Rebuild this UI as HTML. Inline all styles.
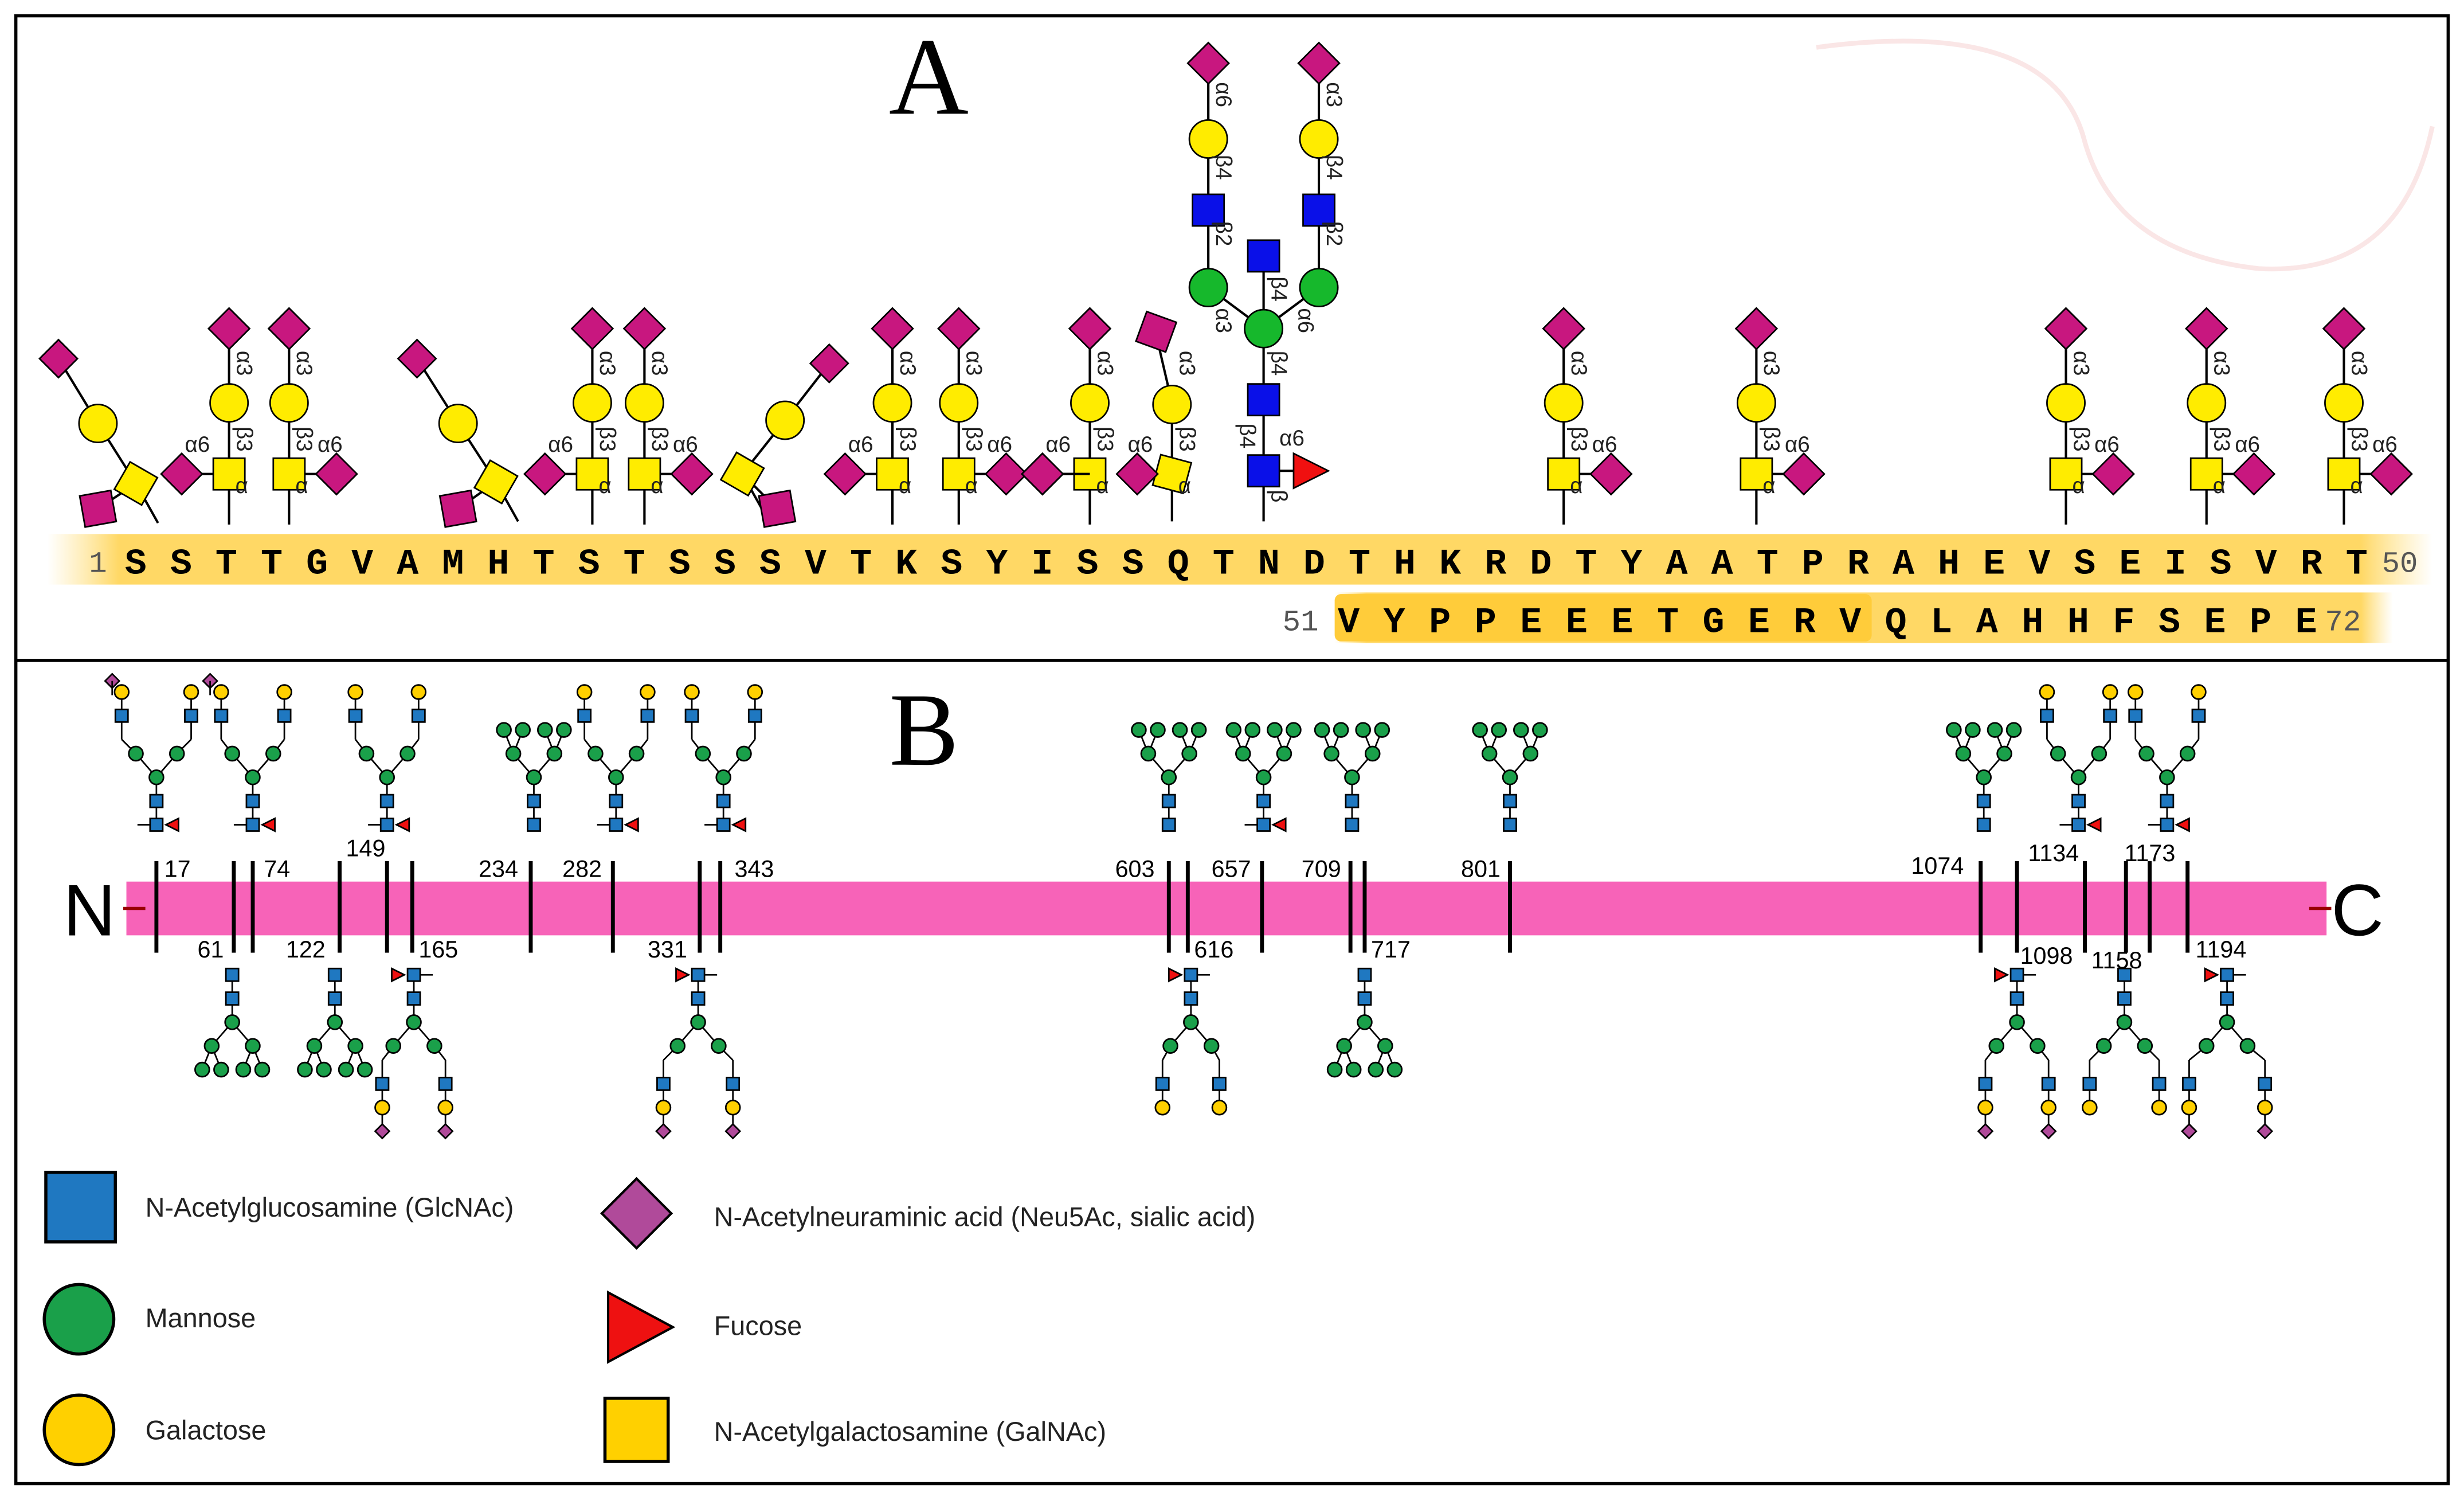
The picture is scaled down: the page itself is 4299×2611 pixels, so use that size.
<!DOCTYPE html>
<html><head><meta charset="utf-8">
<style>
html,body{margin:0;padding:0;background:#fff;}
svg{display:block;}
</style></head>
<body>
<svg id="s" width="4299" height="2611" viewBox="0 0 1560 947.5" xmlns="http://www.w3.org/2000/svg">
<defs>
<linearGradient id="yb" x1="0" x2="1" y1="0" y2="0">
<stop offset="0" stop-color="#ffe080" stop-opacity="0"/>
<stop offset="0.03" stop-color="#ffd865"/>
<stop offset="0.97" stop-color="#ffd865"/>
<stop offset="1" stop-color="#ffe080" stop-opacity="0"/>
</linearGradient>
</defs>
<rect x="0" y="0" width="1560" height="947.5" fill="#fff"/>
<rect x="10" y="10" width="1540" height="929" fill="none" stroke="#000" stroke-width="2"/>
<line x1="10" y1="418" x2="1550" y2="418" stroke="#000" stroke-width="2"/>
<path d="M1150 30 Q1300 10 1320 90 Q1340 160 1430 170 Q1520 175 1540 80" fill="none" stroke="#fae6e6" stroke-width="3"/>
<text x="588" y="72" font-family="Liberation Serif, serif" font-size="70" text-anchor="middle">A</text>
<text x="585" y="484" font-family="Liberation Serif, serif" font-size="66" text-anchor="middle">B</text>

<rect x="30" y="338" width="1510" height="32" fill="url(#yb)"/>
<rect x="845" y="375" width="670" height="32" fill="url(#yb)"/>
<rect x="845" y="376" width="340" height="30" fill="#ffcc3a" rx="4"/>
<g id="glyA"></g>
<text x="62" y="362" font-family="Liberation Mono, monospace" font-size="19" fill="#555" text-anchor="middle">1</text>
<text x="79" y="363" font-family="Liberation Mono, monospace" font-size="23" font-weight="bold" textLength="1420" lengthAdjust="spacing">SSTTGVAMHTSTSSSVTKSYISSQTNDTHKRDTYAATPRAHEVSEISVRT</text>
<text x="1508" y="362" font-family="Liberation Mono, monospace" font-size="19" fill="#555">50</text>
<text x="812" y="399" font-family="Liberation Mono, monospace" font-size="19" fill="#555">51</text>
<text x="847" y="400" font-family="Liberation Mono, monospace" font-size="23" font-weight="bold" textLength="620" lengthAdjust="spacing">VYPPEEETGERVQLAHHFSEPE</text>
<text x="1472" y="399" font-family="Liberation Mono, monospace" font-size="19" fill="#555">72</text>

<rect x="80" y="558" width="1393" height="34" fill="#f763b8"/>
<line x1="78" y1="575" x2="92" y2="575" stroke="#900" stroke-width="2"/>
<line x1="1462" y1="575" x2="1476" y2="575" stroke="#900" stroke-width="2"/>
<text x="40" y="592" font-family="Liberation Sans, sans-serif" font-size="46">N</text>
<text x="1476" y="592" font-family="Liberation Sans, sans-serif" font-size="46">C</text>
<g id="ticks" stroke="#000" stroke-width="2.5"></g>
<g font-family="Liberation Sans, sans-serif" font-size="15">
<text x="104" y="555">17</text><text x="167" y="555">74</text><text x="219" y="542">149</text>
<text x="303" y="555">234</text><text x="356" y="555">282</text><text x="465" y="555">343</text>
<text x="706" y="555">603</text><text x="767" y="555">657</text><text x="824" y="555">709</text>
<text x="925" y="555">801</text><text x="1210" y="553">1074</text><text x="1284" y="545">1134</text>
<text x="1345" y="545">1173</text>
<text x="125" y="606">61</text><text x="181" y="606">122</text><text x="265" y="606">165</text>
<text x="410" y="606">331</text><text x="756" y="606">616</text><text x="868" y="606">717</text>
<text x="1279" y="610">1098</text><text x="1324" y="613">1158</text><text x="1390" y="606">1194</text>
</g>
<g id="glyB"></g>

<rect x="29" y="742" width="44" height="44" fill="#1f78c1" stroke="#000" stroke-width="2"/>
<circle cx="50" cy="835" r="22" fill="#1aa04a" stroke="#000" stroke-width="2"/>
<circle cx="50" cy="905" r="22" fill="#ffd000" stroke="#000" stroke-width="2"/>
<polygon points="403,746 425,768 403,790 381,768" fill="#b04a9a" stroke="#000" stroke-width="1.5"/>
<polygon points="385,818 426,840 385,862" fill="#ee1111" stroke="#000" stroke-width="1.5"/>
<rect x="383" y="885" width="40" height="40" fill="#ffd000" stroke="#000" stroke-width="2"/>
<g font-family="Liberation Sans, sans-serif" font-size="17" fill="#222">
<text x="92" y="770">N-Acetylglucosamine (GlcNAc)</text>
<text x="92" y="840">Mannose</text>
<text x="92" y="911">Galactose</text>
<text x="452" y="776">N-Acetylneuraminic acid (Neu5Ac, sialic acid)</text>
<text x="452" y="845">Fucose</text>
<text x="452" y="912">N-Acetylgalactosamine (GalNAc)</text>
</g>
</svg>
<script>
var NS="http://www.w3.org/2000/svg";
function el(p,t,a){var e=document.createElementNS(NS,t);for(var k in a)e.setAttribute(k,a[k]);p.appendChild(e);return e;}
var A=document.getElementById('glyA'),B=document.getElementById('glyB'),T=document.getElementById('ticks');
var MAG="#c8177f",YEL="#ffec00",BLU="#0a10e8",GRN="#16b82c",RED="#f01010";
function ln(p,x1,y1,x2,y2,w){el(p,'line',{x1:x1,y1:y1,x2:x2,y2:y2,stroke:'#000','stroke-width':w||1.5});}
function sq(p,x,y,s,c){el(p,'rect',{x:x-s/2,y:y-s/2,width:s,height:s,fill:c,stroke:'#000','stroke-width':1});}
function ci(p,x,y,r,c){el(p,'circle',{cx:x,cy:y,r:r,fill:c,stroke:'#000','stroke-width':1});}
function di(p,x,y,r,c){el(p,'polygon',{points:(x)+','+(y-r)+' '+(x+r)+','+y+' '+x+','+(y+r)+' '+(x-r)+','+y,fill:c,stroke:'#000','stroke-width':1});}
function tri(p,x,y,s,dir){var d=dir||1;el(p,'polygon',{points:(x-d*s/2)+','+(y-s/2)+' '+(x+d*s/2)+','+y+' '+(x-d*s/2)+','+(y+s/2),fill:RED,stroke:'#000','stroke-width':1});}
function og(x,side){
  ln(A,x,300,x,332);ln(A,x,300,x,208);
  var sx=x+side*30;ln(A,x,300,sx,300);
  di(A,x,208,13,MAG);ci(A,x,255,12,YEL);sq(A,x,300,20,YEL);di(A,sx,300,13,MAG);
}
[[145,-1],[183,1],[375,-1],[408,1],[565,-1],[607,1],[690,-1],[990,1],[1112,1],[1308,1],[1397,1],[1484,1]].forEach(function(a){og(a[0],a[1]);});
function ogAng(bx,by,gx,gy,sx,sy,dx,dy){
  ln(A,bx,by,bx+14,by+25);ln(A,bx,by,gx,gy);ln(A,gx,gy,sx,sy);ln(A,bx,by,dx,dy);
  di(A,sx,sy,12,MAG);ci(A,gx,gy,12,YEL);
  el(A,'rect',{x:bx-10,y:by-10,width:20,height:20,fill:YEL,stroke:'#000',transform:'rotate(30 '+bx+' '+by+')'});
  el(A,'rect',{x:dx-10,y:dy-10,width:20,height:20,fill:MAG,stroke:'#000',transform:'rotate(-10 '+dx+' '+dy+')'});
}
ogAng(86,306,62,268,37,227,62,322);
ogAng(314,305,290,268,264,227,290,322);
ogAng(470,300,497,266,525,230,492,322);
ln(A,742,300,742,330);ln(A,742,300,742,255);ln(A,742,255,732,212);ln(A,742,300,722,300);
el(A,'rect',{x:722,y:200,width:20,height:20,fill:MAG,stroke:'#000',transform:'rotate(20 732 210)'});
ci(A,742,256,12,YEL);el(A,'rect',{x:732,y:290,width:20,height:20,fill:YEL,stroke:'#000',transform:'rotate(15 742 300)'});di(A,720,300,13,MAG);
ln(A,660,300,690,300);di(A,660,300,13,MAG);
ln(A,800,330,800,162);ln(A,800,298,828,298);ln(A,800,208,765,182);ln(A,800,208,835,182);
ln(A,765,182,765,40);ln(A,835,182,835,40);
tri(A,830,298,22);sq(A,800,298,20,BLU);sq(A,800,253,20,BLU);ci(A,800,208,12,GRN);sq(A,800,162,20,BLU);
[765,835].forEach(function(x){ci(A,x,182,12,GRN);sq(A,x,133,20,BLU);ci(A,x,88,12,YEL);di(A,x,40,13,MAG);});
function lab(x,y,t,rot){var e=el(A,'text',{x:x,y:y,'font-family':'Liberation Sans, sans-serif','font-size':14,fill:'#222'});if(rot)e.setAttribute('transform','rotate(90 '+x+' '+y+')');e.textContent=t;}
[145,183,375,408,565,607,690,990,1112,1308,1397,1484,742].forEach(function(x){lab(x+4,312,'α',0);lab(x+5,270,'β3',1);lab(x+5,222,'α3',1);});
[183,408,607,990,1112,1308,1397,1484].forEach(function(x){lab(x+18,286,'α6',0);});
[145,375,565,690,742].forEach(function(x){lab(x-28,286,'α6',0);});
lab(805,310,'β',1);lab(810,282,'α6',0);lab(785,268,'β4',1);lab(805,222,'β4',1);lab(805,175,'β4',1);
lab(770,140,'β2',1);lab(840,140,'β2',1);lab(770,98,'β4',1);lab(840,98,'β4',1);lab(770,52,'α6',1);lab(840,52,'α3',1);
lab(770,195,'α3',1);lab(822,195,'α6',1);
var BB="#1f78c1",GG="#1aa04a",YY="#ffd000",PP="#b04a9a";
function tree(x,dir,opt){
  var y0=dir<0?522:617, st=15*dir;
  var y1=y0, y2=y0+st, ym=y0+2*st, yb=y0+3*st;
  ln(B,x,y0,x,ym,1);
  if(opt.fuc){ln(B,x,y0,x-12*dir*-1,y0,1);tri(B,dir<0?x+10:x-10,y0,8,dir<0?-1:1);}
  var arms=opt.arms||[-1,1];
  arms.forEach(function(s){
    var mx=x+s*13, my=yb;ln(B,x,ym,mx,my,1);
    if(opt.hm){
      var ay=my+st;ln(B,mx,my,mx-6,ay,1);ln(B,mx,my,mx+6,ay,1);ci(B,mx-6,ay,4.5,GG);ci(B,mx+6,ay,4.5,GG);ci(B,mx,my,4.5,GG);
    } else {
      var ax=x+s*(opt.w||20), ay=my+st*0.6;ln(B,mx,my,ax,ay,1);
      var yy=ay+st, yg=ay+2*st;ln(B,ax,ay,ax,yg+(opt.sia?st:0),1);
      ci(B,mx,my,4.5,GG);sq(B,ax,yy,8,BB);ci(B,ax,yg,4.5,YY);if(opt.sia)di(B,ax,yg+st,4.5,PP);
    }
  });
  sq(B,x,y1,8,BB);sq(B,x,y2,8,BB);ci(B,x,ym,4.5,GG);
}
[99,148,160,215,245,261,336,388,443,456,740,752,799,855,864,956,1254,1277,1320,1346,1361,1385].forEach(function(x){ln(T,x,545,x,603,2.5);});
tree(99,-1,{fuc:1,w:22});tree(160,-1,{fuc:1,w:20});tree(245,-1,{fuc:1});tree(338,-1,{hm:1});tree(390,-1,{fuc:1});tree(458,-1,{fuc:1});
tree(740,-1,{hm:1});tree(800,-1,{fuc:1,hm:1});tree(856,-1,{hm:1});tree(956,-1,{hm:1});tree(1256,-1,{hm:1});tree(1316,-1,{fuc:1});tree(1372,-1,{fuc:1});
di(B,71,431,4.5,PP);ln(B,71,431,71,440,1);di(B,133,431,4.5,PP);ln(B,133,431,133,440,1);
tree(147,1,{hm:1});tree(212,1,{hm:1});tree(262,1,{fuc:1,sia:1});tree(442,1,{fuc:1,sia:1,w:22});
tree(754,1,{fuc:1,w:18});tree(864,1,{hm:1});tree(1277,1,{fuc:1,sia:1});tree(1345,1,{w:22});tree(1410,1,{fuc:1,sia:1,w:24});
</script>
</body></html>
